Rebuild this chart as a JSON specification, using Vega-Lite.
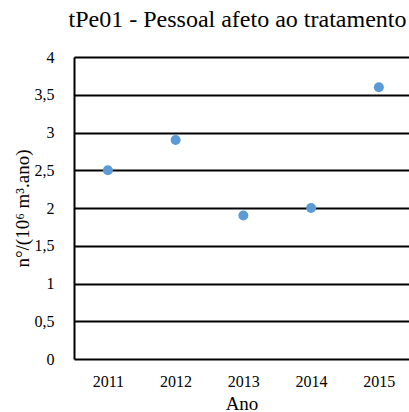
{
  "$schema": "https://vega.github.io/schema/vega-lite/v6.json",
  "autosize": "none",
  "padding": {"left": 74, "top": 57, "right": 0, "bottom": 53},
  "width": 335,
  "height": 302,
  "background": "white",
  "config": {
    "font": "Liberation Serif",
    "view": {"stroke": null}
  },
  "title": {
    "text": "tPe01 - Pessoal afeto ao tratamento",
    "font": "Liberation Serif",
    "fontSize": 24,
    "fontWeight": "normal",
    "color": "black",
    "offset": 17,
    "dx": -4
  },
  "data": {
    "values": [
      {"ano": 2011, "valor": 2.5},
      {"ano": 2012, "valor": 2.9},
      {"ano": 2013, "valor": 1.9},
      {"ano": 2014, "valor": 2.0},
      {"ano": 2015, "valor": 3.6}
    ]
  },
  "mark": {"type": "point", "filled": true, "size": 100, "color": "#5B9BD5", "opacity": 1},
  "encoding": {
    "x": {
      "field": "ano",
      "type": "quantitative",
      "scale": {"domain": [2010.5, 2015.445], "nice": false, "zero": false},
      "axis": {
        "title": "Ano",
        "values": [2011, 2012, 2013, 2014, 2015],
        "format": "d",
        "ticks": false,
        "domain": false,
        "grid": false,
        "labelFont": "Liberation Serif",
        "labelFontSize": 16,
        "labelColor": "black",
        "labelPadding": 14,
        "titleFont": "Liberation Serif",
        "titleFontSize": 19,
        "titleFontWeight": "normal",
        "titleColor": "black",
        "titlePadding": 5
      }
    },
    "y": {
      "field": "valor",
      "type": "quantitative",
      "scale": {"domain": [0, 4], "nice": false},
      "axis": {
        "title": "n°/(10⁶ m³.ano)",
        "values": [0, 0.5, 1, 1.5, 2, 2.5, 3, 3.5, 4],
        "labelExpr": "replace(format(datum.value, '~g'), '.', ',')",
        "ticks": false,
        "domain": true,
        "domainColor": "black",
        "domainWidth": 2,
        "grid": true,
        "gridColor": "black",
        "gridWidth": 2,
        "gridOpacity": 1,
        "labelFont": "Liberation Serif",
        "labelFontSize": 16,
        "labelColor": "black",
        "labelPadding": 20,
        "titleFont": "Liberation Serif",
        "titleFontSize": 19,
        "titleFontWeight": "normal",
        "titleColor": "black",
        "titlePadding": 2
      }
    }
  }
}
